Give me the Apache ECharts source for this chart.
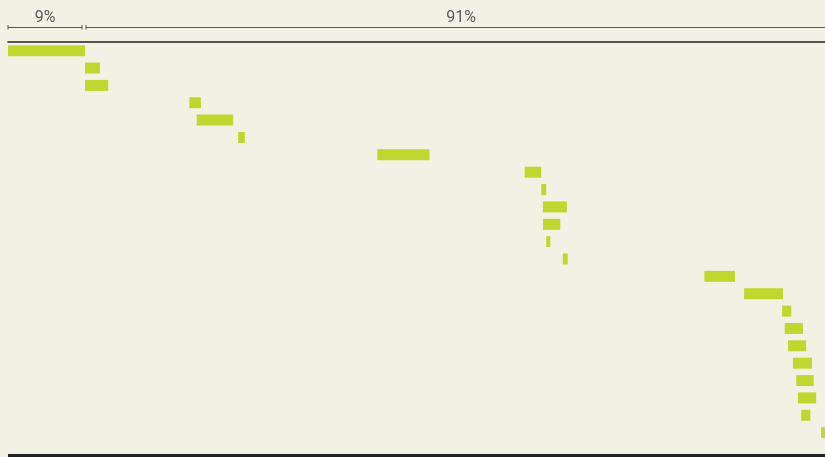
<!DOCTYPE html>
<html>
<head>
<meta charset="utf-8">
<script src="https://cdn.jsdelivr.net/npm/echarts@6/dist/echarts.min.js"></script>
<style>
  html, body { margin: 0; padding: 0; background: #f2f2e4; overflow: hidden; width: 825px; height: 457px; }
  #chart { width: 845px; height: 457px; }
</style>
</head>
<body>
<div id="chart"></div>
<script>
// Task rows (top to bottom)
const categories = ['1','2','3','4','5','6','7','8','9','10','11','12','13','14','15','16','17','18','19','20','21','22','23'];
// Start and end of each bar, in % of the full span
const startValues = [0, 9.3, 9.3, 21.9, 22.8, 27.8, 44.6, 62.4, 64.4, 64.6, 64.6, 65.0, 67.0, 84.1, 88.9, 93.5, 93.8, 94.2, 94.8, 95.2, 95.4, 95.8, 98.2];
const endValues   = [9.3, 11.1, 12.1, 23.3, 27.2, 28.6, 50.9, 64.4, 65.0, 67.5, 66.7, 65.5, 67.6, 87.8, 93.6, 94.6, 96.0, 96.4, 97.1, 97.3, 97.6, 96.9, 99.6];
// Brackets on top
const segmentBounds = [0, 9, 100];
const segmentLabels = ['9%', '91%'];

const chart = echarts.init(document.getElementById('chart'));
const durations = endValues.map((e, i) => +(e - startValues[i]).toFixed(2));

chart.setOption({
  backgroundColor: '#f2f2e4',
  animation: false,
  grid: { left: 8, width: 828, top: 42, height: 399.3 },
  xAxis: {
    type: 'value', position: 'top', min: 0, max: 100,
    axisLine: { show: true, lineStyle: { color: '#222', width: 1.5 } },
    axisTick: { show: false }, axisLabel: { show: false }, splitLine: { show: false }
  },
  yAxis: {
    type: 'category', data: categories, inverse: true,
    axisLine: { show: false }, axisTick: { show: false }, axisLabel: { show: false }
  },
  series: [
    { type: 'bar', stack: 'g', data: startValues, barWidth: 11,
      itemStyle: { color: 'transparent' }, silent: true },
    { type: 'bar', stack: 'g', data: durations, barWidth: 11,
      itemStyle: { color: '#bfd72f' } }
  ]
});

// Brackets and bottom rule
const g = [];
const by = 27.5;
for (let i = 0; i < segmentLabels.length; i++) {
  let x0 = chart.convertToPixel({ xAxisIndex: 0 }, segmentBounds[i]);
  let x1 = chart.convertToPixel({ xAxisIndex: 0 }, segmentBounds[i + 1]);
  if (i > 0) x0 += 3.5;
  if (i < segmentLabels.length - 1) x1 -= 0.5;
  g.push({ type: 'line', shape: { x1: x0, y1: by, x2: x1, y2: by }, style: { stroke: '#555', lineWidth: 1.2 } });
  g.push({ type: 'line', shape: { x1: x0, y1: by - 2.5, x2: x0, y2: by + 2 }, style: { stroke: '#555', lineWidth: 1 } });
  g.push({ type: 'line', shape: { x1: x1, y1: by - 2.5, x2: x1, y2: by + 2 }, style: { stroke: '#555', lineWidth: 1 } });
  g.push({ type: 'text', x: (x0 + x1) / 2, y: 17.5,
    style: { text: segmentLabels[i], fill: '#5a5a5a', font: '16px Roboto', align: 'center', verticalAlign: 'middle' } });
}
g.push({ type: 'rect', shape: { x: 8, y: 454, width: 835, height: 4 }, style: { fill: '#222' } });
chart.setOption({ graphic: g });
</script>
</body>
</html>
